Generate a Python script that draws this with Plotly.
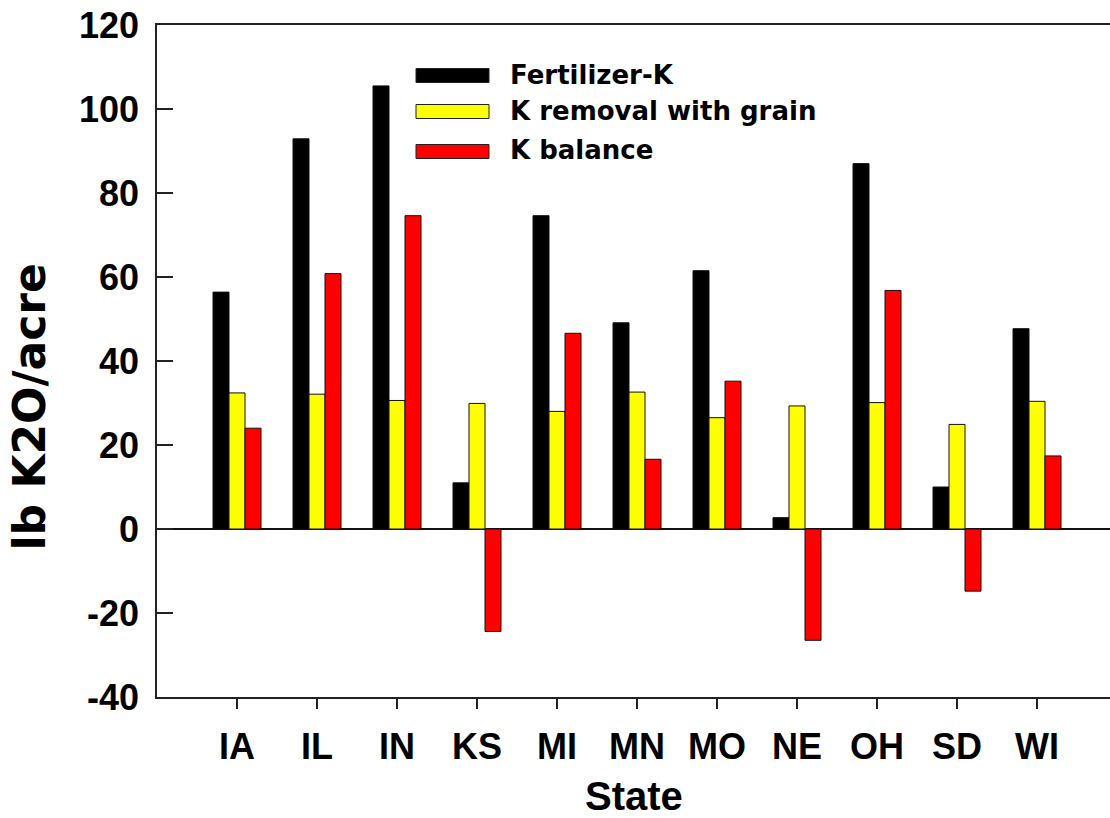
import plotly.graph_objects as go

states = ["IA", "IL", "IN", "KS", "MI", "MN", "MO", "NE", "OH", "SD", "WI"]
fertilizer_k = [56.4, 92.9, 105.5, 11.0, 74.6, 49.1, 61.5, 2.7, 87.0, 10.0, 47.7]
k_removal = [32.4, 32.1, 30.6, 29.9, 28.0, 32.6, 26.5, 29.3, 30.1, 24.9, 30.4]
k_balance = [24.0, 60.8, 74.6, -24.4, 46.6, 16.6, 35.2, -26.5, 56.8, -14.8, 17.4]

series_names = ["Fertilizer-K", "K removal with grain", "K balance"]
series_values = [fertilizer_k, k_removal, k_balance]
series_colors = ["#000000", "#FFFF00", "#FF0000"]

y_ticks = [-40, -20, 0, 20, 40, 60, 80, 100, 120]

W, H = 1110, 818
ML, MR, MT, MB = 157, 0, 25, 121
PW = W - ML - MR
PH = H - MT - MB


def px_x(p):
    return (p - ML) / PW


def px_y(p):
    return (H - MB - p) / PH


fig = go.Figure()
for name, vals, col in zip(series_names, series_values, series_colors):
    fig.add_trace(go.Bar(
        x=states, y=vals, name=name,
        marker=dict(color=col, line=dict(color="#111111", width=1)),
        showlegend=False,
    ))

tick_font = dict(family="Liberation Sans, Arial, sans-serif", size=36, color="black", weight="bold")

shapes = []
annotations = []
row_centers = [75.5, 111.5, 151.5]
for name, col, cy in zip(series_names, series_colors, row_centers):
    shapes.append(dict(
        type="rect", xref="paper", yref="paper",
        x0=px_x(416), x1=px_x(489), y0=px_y(cy + 7), y1=px_y(cy - 7),
        fillcolor=col, line=dict(color="#222222", width=1),
    ))
    annotations.append(dict(
        text=name, xref="paper", yref="paper", x=px_x(508), y=px_y(cy - 1),
        xanchor="left", yanchor="middle", showarrow=False,
        font=dict(family="DejaVu Sans, sans-serif", size=26, color="black", weight="bold"),
    ))

annotations.append(dict(
    text="State", xref="paper", yref="paper", x=0.5, y=px_y(795.5),
    xanchor="center", yanchor="middle", showarrow=False,
    font=dict(family="Liberation Sans, Arial, sans-serif", size=40, color="black", weight="bold"),
))
annotations.append(dict(
    text="lb K2O/acre", xref="paper", yref="paper", x=px_x(28.5), y=px_y(407),
    xanchor="center", yanchor="middle", showarrow=False, textangle=-90,
    font=dict(family="DejaVu Sans, sans-serif", size=44, color="black", weight="bold"),
))

fig.update_layout(
    width=W, height=H,
    margin=dict(l=ML, r=MR, t=MT, b=MB, pad=0),
    paper_bgcolor="white", plot_bgcolor="white",
    barmode="group", bargap=0.4, bargroupgap=0,
    shapes=shapes, annotations=annotations,
    showlegend=False,
    xaxis=dict(
        type="category", range=[-1, -1 + PW / 80.0],
        showline=True, linecolor="#222222", linewidth=1.5, mirror=True,
        ticks="outside", ticklen=10, tickwidth=1.5, tickcolor="#222222",
        tickfont=tick_font, ticklabelstandoff=7, showgrid=False, zeroline=False,
    ),
    yaxis=dict(
        range=[-40, 120], tickvals=y_ticks, ticktext=[str(v) for v in y_ticks],
        showline=True, linecolor="#222222", linewidth=1.5, mirror=False,
        ticks="inside", ticklen=16, tickwidth=1.5, tickcolor="#222222",
        tickfont=tick_font, ticklabelstandoff=9, showgrid=False,
        zeroline=True, zerolinecolor="#111111", zerolinewidth=2,
    ),
    yaxis2=dict(
        overlaying="y", side="right", range=[-40, 120], tickvals=y_ticks,
        showticklabels=False, showline=False, showgrid=False, zeroline=False,
        ticks="inside", ticklen=9, tickwidth=1.5, tickcolor="#222222",
    ),
)

fig.write_html(
    "out.html",
    config={"displayModeBar": False},
    post_script="document.body.style.margin='0px';",
)
